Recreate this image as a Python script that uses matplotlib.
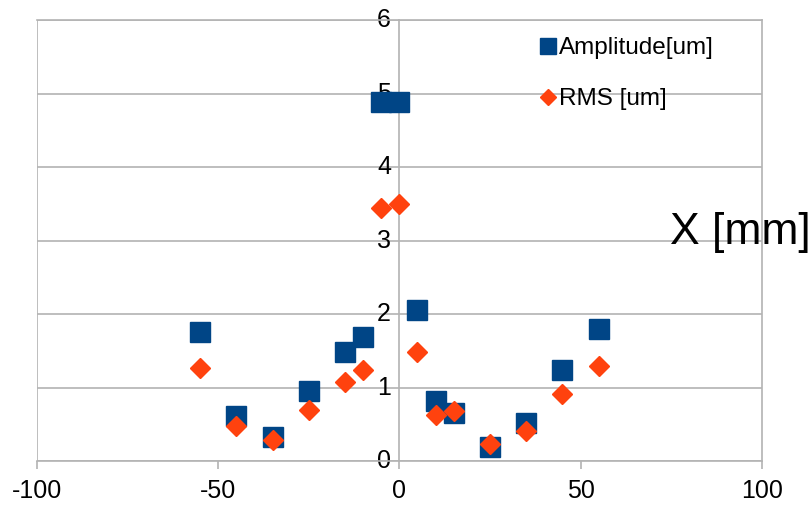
import matplotlib
matplotlib.use("Agg")
import matplotlib.pyplot as plt

plt.rcParams['font.family'] = ['Liberation Sans', 'DejaVu Sans']
plt.rcParams['axes.unicode_minus'] = False

# positions along X [mm]
x_pos = [-55, -45, -35, -25, -15, -10, -5, 0, 5, 10, 15, 25, 35, 45, 55]
# peak-to-peak amplitude [um]
amplitude = [1.76, 0.61, 0.33, 0.95, 1.48, 1.69, 4.88, 4.88, 2.05, 0.82, 0.65, 0.19, 0.52, 1.24, 1.80]
# rms [um]
rms = [1.27, 0.48, 0.29, 0.70, 1.07, 1.24, 3.45, 3.50, 1.48, 0.63, 0.68, 0.23, 0.41, 0.91, 1.29]

x_ticks = [-100, -50, 0, 50, 100]
y_ticks = [0, 1, 2, 3, 4, 5, 6]

grid_col = '#b3b3b3'

fig = plt.figure(figsize=(8.12, 5.05), dpi=100)
ax = fig.add_axes([0.0456, 0.087, 0.8925, 0.873])

ax.plot(x_pos, amplitude, linestyle='none', marker='s', markersize=14.5,
        color='#004586', label='Amplitude[um]', zorder=3)
ax.plot(x_pos, rms, linestyle='none', marker='D', markersize=10.2,
        color='#ff420e', label='RMS [um]', zorder=4)

ax.set_xlim(-100, 100)
ax.set_ylim(0, 6)
ax.set_xticks(x_ticks)
ax.set_yticks(y_ticks)

# y axis crosses at x = 0
ax.spines['left'].set_position(('data', 0))
for s in ax.spines.values():
    s.set_color(grid_col)
    s.set_linewidth(1.2)
ax.yaxis.grid(True, color=grid_col, linewidth=1.2)
ax.set_axisbelow(True)

# box edge at -100
ax.axvline(-100, color=grid_col, linewidth=1.2, zorder=0)

ax.tick_params(axis='x', direction='out', length=6, width=1.2, color=grid_col,
               labelsize=18, pad=7)
ax.tick_params(axis='y', length=0, labelsize=18, pad=6)
for lbl in ax.get_yticklabels():
    lbl.set_verticalalignment('center')

ax.legend(loc='upper left', bbox_to_anchor=(0.672, 1.0), frameon=False,
          fontsize=17.5, markerscale=0.75, handlelength=0.6, handletextpad=0.15,
          labelspacing=1.2, borderaxespad=0.3)

fig.text(0.825, 0.539, 'X [mm]', fontsize=32, va='center', ha='left')

fig.savefig('out.png', dpi=100)
